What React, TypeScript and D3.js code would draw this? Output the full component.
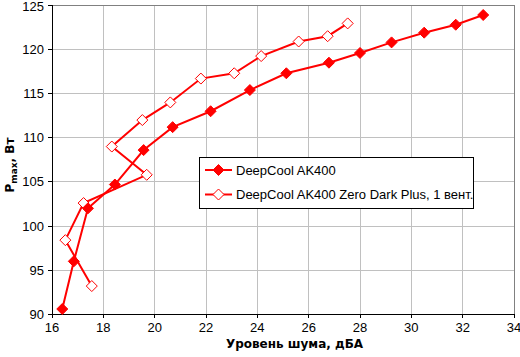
import React from "react";
import * as d3 from "d3";

const seriesNames = ["DeepCool AK400", "DeepCool AK400 Zero Dark Plus, 1 вент."];
const ak400Noise = [16.4, 16.85, 17.4, 18.45, 19.57, 20.7, 22.18, 23.71, 25.13, 26.79, 28.0, 29.23, 30.5, 31.73, 32.8];
const ak400Power = [90.6, 96.0, 102.0, 104.7, 108.6, 111.2, 113.0, 115.4, 117.3, 118.5, 119.6, 120.8, 121.9, 122.8, 123.9];
const zeroNoise = [17.55, 16.52, 17.23, 19.69, 18.33, 19.52, 20.61, 21.8, 23.1, 24.15, 25.61, 26.74, 27.52];
const zeroPower = [93.2, 98.4, 102.6, 105.8, 109.0, 112.0, 114.0, 116.7, 117.3, 119.25, 120.9, 121.5, 122.95];
const xTicks = [16, 18, 20, 22, 24, 26, 28, 30, 32, 34];
const yTicks = [90, 95, 100, 105, 110, 115, 120, 125];

const FONT = "'Liberation Sans', Arial, sans-serif";
const TITLE_FONT = "'DejaVu Sans', Verdana, sans-serif";

export default function App() {
  const W = 520, H = 357;
  const x = d3.scaleLinear().domain([16, 34]).range([52, 514]);
  const y = d3.scaleLinear().domain([90, 125]).range([314.3, 5.3]);
  const line = d3.line<[number, number]>().x(d => x(d[0])).y(d => y(d[1]));
  const s1: [number, number][] = ak400Noise.map((v, i) => [v, ak400Power[i]]);
  const s2: [number, number][] = zeroNoise.map((v, i) => [v, zeroPower[i]]);
  const dia = (cx: number, cy: number, r: number) => `M${cx},${cy - r}L${cx + r},${cy}L${cx},${cy + r}L${cx - r},${cy}Z`;
  const red = "#ff0000";
  return (
    <svg width={W} height={H} style={{ position: "absolute", left: 0, top: 0, background: "#fff" }} fontFamily={FONT}>
      <rect x={0} y={0} width={W} height={H} fill="#fff" />
      {xTicks.map(t => (
        <line key={"gx" + t} x1={x(t)} x2={x(t)} y1={y(90)} y2={y(125)} stroke="#c0c0c0" strokeWidth={1} shapeRendering="crispEdges" />
      ))}
      {yTicks.map(t => (
        <line key={"gy" + t} x1={x(16)} x2={x(34)} y1={y(t)} y2={y(t)} stroke="#c0c0c0" strokeWidth={1} shapeRendering="crispEdges" />
      ))}
      <rect x={x(16)} y={y(125)} width={x(34) - x(16)} height={y(90) - y(125)} fill="none" stroke="#808080" strokeWidth={1} shapeRendering="crispEdges" />
      <line x1={x(16)} x2={x(16)} y1={y(90)} y2={y(125)} stroke="#000" shapeRendering="crispEdges" />
      <line x1={x(16)} x2={x(34)} y1={y(90)} y2={y(90)} stroke="#000" shapeRendering="crispEdges" />
      {xTicks.map(t => (
        <g key={"tx" + t}>
          <line x1={x(t)} x2={x(t)} y1={y(90)} y2={y(90) + 4} stroke="#000" shapeRendering="crispEdges" />
          <text x={x(t)} y={332} fontSize={13} textAnchor="middle">{t}</text>
        </g>
      ))}
      {yTicks.map(t => (
        <g key={"ty" + t}>
          <line x1={x(16) - 4} x2={x(16)} y1={y(t)} y2={y(t)} stroke="#000" shapeRendering="crispEdges" />
          <text x={44} y={Math.max(y(t) + 4.5, 10.5)} fontSize={13} textAnchor="end">{t}</text>
        </g>
      ))}
      <text x={294.5} y={348} fontSize={12} fontWeight="bold" textAnchor="middle" fontFamily={TITLE_FONT}>Уровень шума, дБА</text>
      <text transform={`translate(14,165) rotate(-90)`} fontSize={12} fontWeight="bold" textAnchor="middle" fontFamily={TITLE_FONT}>
        P<tspan fontSize={9} dy={3}>max</tspan><tspan dy={-3}>, Вт</tspan>
      </text>
      <path d={line(s2) || ""} fill="none" stroke={red} strokeWidth={2} />
      <path d={line(s1) || ""} fill="none" stroke={red} strokeWidth={2} />
      {s2.map((d, i) => (
        <path key={"m2" + i} d={dia(x(d[0]), y(d[1]), 5.5)} fill="#fff" stroke={red} strokeWidth={1} />
      ))}
      {s1.map((d, i) => (
        <path key={"m1" + i} d={dia(x(d[0]), y(d[1]), 5.5)} fill={red} stroke={red} strokeWidth={1} />
      ))}
      <rect x={199.5} y={157.5} width={274} height={51} fill="#fff" stroke="#000" strokeWidth={1} />
      {seriesNames.map((n, i) => {
        const ly = 170 + i * 24.5;
        return (
          <g key={n}>
            <line x1={205} x2={232} y1={ly} y2={ly} stroke={red} strokeWidth={2} />
            <path d={dia(218.5, ly, 5.5)} fill={i === 0 ? red : "#fff"} stroke={red} strokeWidth={1} />
            <text x={236} y={ly + 4.5} fontSize={13}>{n}</text>
          </g>
        );
      })}
    </svg>
  );
}
